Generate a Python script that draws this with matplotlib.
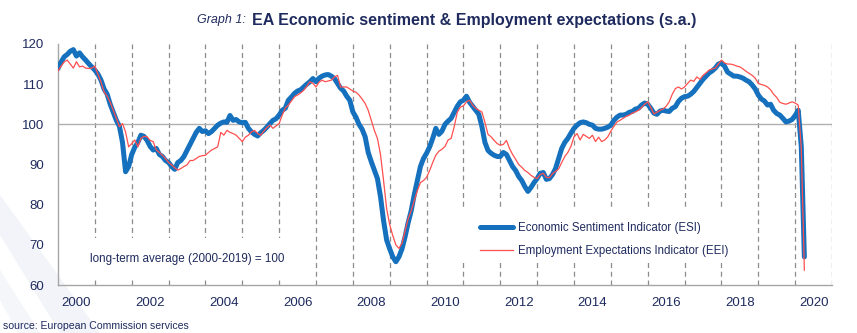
import numpy as np
import matplotlib.pyplot as plt
from matplotlib.patches import Polygon, Rectangle

plt.rcParams['font.family'] = ['Liberation Sans', 'DejaVu Sans']

# monthly values, Jan 2000 - Apr 2020
esi = [
    113.9, 115.5, 116.8, 117.4, 118.2, 118.6, 117.0, 117.8, 116.8, 116.0, 115.1, 114.3,  # 2000
    113.5, 112.5, 111.0, 108.8, 107.5, 105.0, 103.0, 101.0, 99.5, 95.5, 88.2, 89.5,  # 2001
    92.5, 94.3, 95.5, 97.3, 97.0, 96.0, 94.5, 93.6, 94.0, 92.5, 92.0, 91.0,  # 2002
    90.5, 89.5, 88.8, 90.5, 91.0, 92.0, 93.5, 95.0, 96.5, 98.0, 99.0, 98.2,  # 2003
    98.4, 97.7, 98.2, 99.0, 99.8, 100.3, 100.6, 100.5, 102.2, 101.0, 101.2, 100.6,  # 2004
    100.4, 100.5, 99.0, 98.1, 97.5, 97.1, 97.9, 98.5, 99.3, 100.2, 101.0, 101.4,  # 2005
    102.3, 103.5, 104.0, 106.0, 106.8, 107.7, 108.3, 108.6, 109.3, 110.0, 110.6, 111.4,  # 2006
    110.6, 111.5, 112.0, 112.3, 112.4, 112.0, 111.4, 110.2, 109.0, 108.3, 107.0, 106.0,  # 2007
    103.1, 101.8, 100.0, 98.8, 96.9, 93.0, 90.7, 88.6, 86.5, 82.0, 76.0, 71.2,  # 2008
    69.0, 67.0, 65.8, 67.0, 69.0, 72.0, 75.5, 78.5, 82.5, 86.0, 89.5, 91.5,  # 2009
    92.8, 94.4, 96.5, 99.0, 97.5, 98.3, 100.0, 100.8, 101.5, 103.0, 104.5, 105.6,  # 2010
    106.0, 107.0, 105.5, 104.5, 103.5, 102.5, 99.5, 95.5, 93.5, 92.8, 92.3, 92.0,  # 2011
    92.0, 93.0, 92.5, 91.0, 89.5, 88.5, 87.0, 86.0, 84.5, 83.3, 84.3, 85.5,  # 2012
    86.5, 87.8, 88.0, 86.3, 86.5, 87.5, 89.0, 91.5, 94.0, 95.5, 96.5, 97.8,  # 2013
    99.0, 99.8, 100.4, 100.6, 100.4, 100.0, 99.8, 99.0, 98.8, 98.8, 99.0, 99.3,  # 2014
    99.8, 101.0, 101.8, 102.3, 102.3, 102.5, 103.0, 103.2, 103.8, 104.0, 104.8, 105.3,  # 2015
    105.0, 104.0, 102.8, 102.5, 103.3, 103.5, 103.3, 103.2, 104.0, 104.4, 105.7, 106.5,  # 2016
    106.9, 107.0, 107.5, 108.2, 109.2, 110.2, 111.2, 112.0, 112.8, 113.3, 114.0, 115.0,  # 2017
    115.3, 114.5, 113.0, 112.5, 112.0, 112.0, 111.8, 111.5, 111.0, 110.6, 109.8, 108.8,  # 2018
    107.3, 106.3, 105.8, 104.8, 105.0, 103.5, 102.7, 102.3, 101.5, 100.6, 100.8, 101.2,  # 2019
    102.2, 103.5, 94.5, 67.0,  # 2020
]
eei = [
    113.3, 114.5, 115.5, 116.0, 115.0, 114.0, 115.6, 114.3, 114.5, 114.0, 113.9, 114.0,  # 2000
    114.5, 112.5, 110.5, 108.1, 107.0, 105.5, 103.5, 101.5, 99.4, 100.2, 98.1, 94.4,  # 2001
    95.2, 96.1, 94.4, 96.5, 97.0, 96.9, 96.0, 95.7, 93.6, 93.0, 92.3, 91.5,  # 2002
    90.5, 89.9, 89.2, 88.6, 89.0, 89.5, 89.9, 91.0, 91.0, 91.5, 92.0, 92.2,  # 2003
    92.3, 93.0, 93.6, 94.0, 94.4, 98.0, 97.3, 98.5, 98.0, 97.7, 97.3, 96.5,  # 2004
    95.7, 96.8, 97.3, 98.1, 98.5, 97.7, 97.3, 98.3, 99.2, 99.8, 99.0, 99.6,  # 2005
    100.2, 102.3, 104.0, 104.8, 105.8, 106.9, 107.3, 107.8, 108.5, 109.5, 110.6, 110.2,  # 2006
    109.3, 110.5, 111.0, 110.6, 110.8, 111.0, 111.8, 112.2, 109.3, 109.3, 109.3, 108.8,  # 2007
    108.3, 108.0, 107.3, 106.3, 105.2, 103.5, 101.0, 98.5, 96.5, 92.5, 86.0, 79.0,  # 2008
    75.0, 72.3, 70.0, 69.1, 70.4, 73.5, 76.5, 78.5, 81.0, 83.5, 85.5, 86.0,  # 2009
    86.8, 88.5, 90.5, 92.3, 93.3, 93.8, 94.5, 96.1, 96.5, 99.4, 103.0, 104.3,  # 2010
    104.6, 105.6, 106.0, 104.8, 104.0, 103.5, 103.1, 100.5, 97.5, 96.9, 96.0, 95.2,  # 2011
    94.8, 95.0, 96.0, 94.0, 92.5, 91.3, 90.0, 89.3, 88.5, 88.0, 87.3, 86.8,  # 2012
    86.5, 87.5, 87.8, 86.8, 86.7, 87.7, 88.3, 88.9, 90.5, 92.0, 93.0, 94.5,  # 2013
    96.9, 97.7, 96.1, 97.5, 97.0, 96.5, 97.3, 95.7, 96.8, 95.7, 96.1, 96.9,  # 2014
    98.3, 99.5, 100.6, 101.0, 101.5, 102.0, 102.3, 102.8, 103.1, 103.5, 104.2, 105.0,  # 2015
    105.6, 104.2, 102.6, 103.0, 103.5, 103.8, 104.5, 105.6, 107.5, 108.9, 109.3, 108.8,  # 2016
    109.3, 110.2, 111.0, 110.7, 111.8, 111.2, 112.2, 112.8, 113.5, 113.8, 114.0, 115.0,  # 2017
    116.0, 115.3, 115.0, 115.0, 114.8, 114.5, 114.3, 113.8, 113.2, 112.7, 112.2, 111.5,  # 2018
    110.2, 109.9, 109.7, 109.3, 108.6, 107.5, 106.7, 105.5, 105.2, 105.0, 105.3, 105.6,  # 2019
    105.3, 104.8, 94.0, 63.7,  # 2020
]
tick_years = list(range(2000, 2021, 2))

navy = '#1f2b5e'
t = 2000 + np.arange(len(esi)) / 12

fig = plt.figure(figsize=(8.57, 3.33), dpi=100)

# faint decorative bands in the lower left
def px(pts):
    return [(x / 857, 1 - y / 333) for x, y in pts]
fig.patches.append(Polygon(px([(0, 195), (0, 235), (60, 333), (100, 333)]),
                           closed=True, transform=fig.transFigure, fc='#f3f4f9', ec='none', zorder=-5))
fig.patches.append(Polygon(px([(0, 270), (0, 300), (18, 333), (40, 333)]),
                           closed=True, transform=fig.transFigure, fc='#f5f6fa', ec='none', zorder=-5))

ax = fig.add_axes([58 / 857, 48 / 333, 774 / 857, 241 / 333])
ax.patch.set_alpha(0)

for yr in range(2001, 2022):
    ax.axvline(yr, color='#8c8c8c', lw=0.9, ls=(0, (4, 3)), zorder=1)
ax.axhline(100, color='#b0b0b0', lw=1.0, zorder=1)

ax.plot(t, esi, color='#1570bd', lw=3.6, solid_capstyle='round', zorder=3,
        label='Economic Sentiment Indicator (ESI)')
ax.plot(t, eei, color='#ff4f4f', lw=0.9, zorder=4,
        label='Employment Expectations Indicator (EEI)')

ax.set_xlim(2000, 2021)
ax.set_ylim(60, 120)
ax.set_yticks(range(60, 121, 10))
ax.set_xticks([y + 0.5 for y in tick_years])
ax.set_xticklabels([str(y) for y in tick_years])
ax.tick_params(axis='both', length=0, labelsize=9.5, labelcolor=navy)
ax.tick_params(axis='x', pad=9)
ax.tick_params(axis='y', pad=10)
for s in ['top', 'right']:
    ax.spines[s].set_visible(False)
for s in ['left', 'bottom']:
    ax.spines[s].set_color('#a6a6a6')
    ax.spines[s].set_linewidth(1.0)

# white areas behind legend and note
ax.add_patch(Rectangle((0.518, 0.095), 0.366, 0.215, transform=ax.transAxes,
                       fc='white', ec='none', zorder=2))
ax.text(0.041, 0.108, 'long-term average (2000-2019) = 100', transform=ax.transAxes,
        fontsize=8.4, color=navy, va='center', ha='left', zorder=5,
        bbox=dict(fc='white', ec='none', pad=11))

leg = ax.legend(loc='center left', bbox_to_anchor=(0.545, 0.189), frameon=False,
                fontsize=8.3, handlelength=2.9, handletextpad=0.4, labelspacing=0.95,
                borderpad=0, borderaxespad=0)
for txt in leg.get_texts():
    txt.set_color(navy)

fig.text(246 / 857, 1 - 20 / 333, 'Graph 1:', fontsize=9, style='italic',
         color=navy, ha='right', va='center')
fig.text(252 / 857, 1 - 20 / 333, 'EA Economic sentiment & Employment expectations (s.a.)',
         fontsize=11.5, fontweight='bold', color=navy, ha='left', va='center')
fig.text(3 / 857, 1 - 326 / 333, 'source: European Commission services', fontsize=7.6,
         color=navy, ha='left', va='center')

fig.savefig('out.png', dpi=100)
